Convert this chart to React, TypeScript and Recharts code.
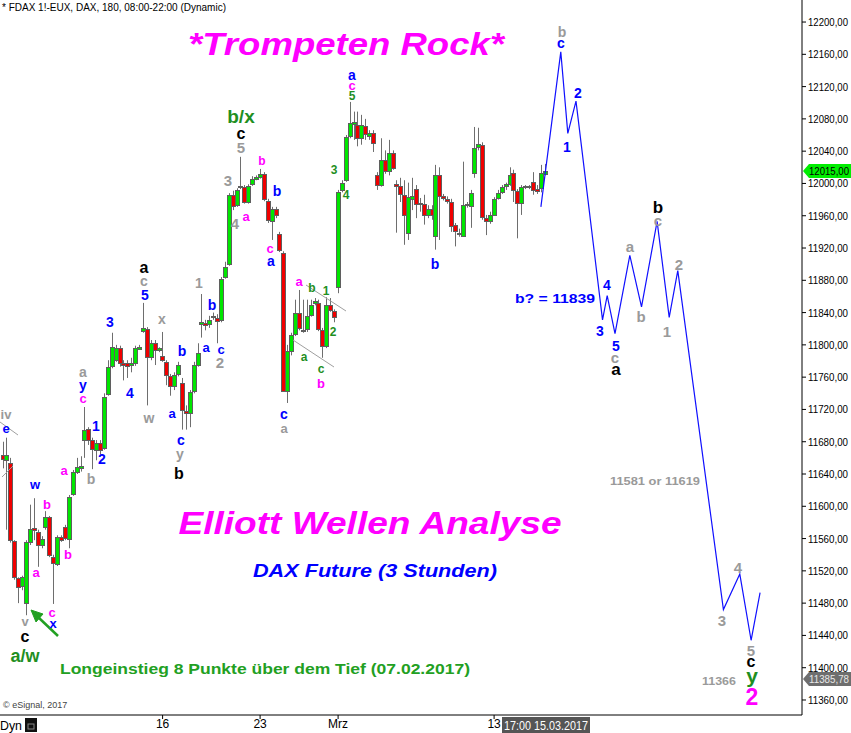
import React from "react"
import { ComposedChart, Bar, Line, XAxis, YAxis } from "recharts"

// 3-hour candles, FDAX, 06.02.2017 - 15.03.2017 (5 bars per day)
const opens = [
  11663, 11657, 11654, 11557, 11511, 11501, 11480, 11556, 11573, 11568,
  11552, 11574, 11587, 11537, 11529, 11562, 11574, 11560, 11615, 11643,
  11648, 11682, 11696, 11682, 11670, 11678, 11672, 11739, 11774, 11781,
  11796, 11777, 11777, 11775, 11777, 11795, 11817, 11820, 11785, 11802,
  11794, 11786, 11779, 11761, 11749, 11764, 11753, 11718, 11716, 11743,
  11775, 11826, 11827, 11826, 11834, 11833, 11831, 11884, 11900, 11986,
  11973, 11995, 11996, 11977, 11999, 12006, 12008, 12012, 11978, 11954,
  11968, 11937, 11914, 11743, 11792, 11813, 11840, 11819, 11820, 11837,
  11852, 11852, 11818, 11799, 11849, 11842, 11872, 11992, 12004, 12059,
  12074, 12072, 12056, 12071, 12059, 12062, 12010, 11998, 12029, 12015,
  12038, 11999, 11997, 11986, 11939, 11981, 11993, 11976, 11975, 11961,
  11968, 11935, 12010, 11984, 11981, 11977, 11948, 11937, 11935, 11973,
  11972, 12013, 12045, 12048, 11957, 11954, 11961, 11982, 11989, 11997,
  11999, 12013, 11991, 11976, 11996, 11997, 12002, 11993, 11994, 12012,
]
const highs = [
  11680, 11685, 11660, 11558, 11512, 11514, 11558, 11602, 11610, 11571,
  11563, 11594, 11588, 11540, 11564, 11564, 11577, 11614, 11645, 11660,
  11662, 11723, 11698, 11685, 11682, 11682, 11740, 11781, 11815, 11800,
  11799, 11781, 11781, 11784, 11799, 11800, 11852, 11822, 11806, 11806,
  11797, 11816, 11781, 11764, 11766, 11779, 11759, 11725, 11744, 11779,
  11802, 11863, 11831, 11836, 11840, 11838, 11884, 11903, 11988, 11991,
  11994, 12033, 11998, 11999, 12009, 12010, 12018, 12014, 11981, 11971,
  11971, 11940, 11916, 11800, 11815, 11856, 11868, 11856, 11856, 11856,
  11858, 11856, 11821, 11859, 11858, 11844, 11992, 12004, 12060, 12101,
  12089, 12089, 12085, 12080, 12066, 12066, 12014, 12056, 12041, 12054,
  12041, 12004, 12007, 12004, 12001, 12007, 11998, 11982, 11986, 11973,
  11973, 12023, 12020, 11987, 11984, 11981, 11951, 11944, 12027, 11977,
  11992, 12070, 12069, 12051, 11961, 11965, 11983, 11992, 11998, 12001,
  12020, 12017, 11993, 11998, 11998, 11998, 12014, 11998, 12023, 12024,
]
const lows = [
  11647, 11571, 11555, 11509, 11480, 11496, 11465, 11552, 11558, 11525,
  11548, 11571, 11537, 11479, 11526, 11556, 11558, 11548, 11613, 11640,
  11643, 11660, 11676, 11646, 11657, 11664, 11670, 11737, 11771, 11779,
  11773, 11756, 11759, 11766, 11774, 11794, 11815, 11725, 11781, 11775,
  11791, 11779, 11750, 11737, 11744, 11761, 11695, 11695, 11698, 11740,
  11773, 11809, 11818, 11821, 11831, 11802, 11828, 11882, 11898, 11967,
  11971, 11993, 11975, 11975, 11997, 12004, 12006, 11978, 11951, 11930,
  11957, 11915, 11742, 11728, 11787, 11811, 11818, 11815, 11816, 11835,
  11849, 11817, 11784, 11796, 11841, 11828, 11864, 11989, 12002, 12056,
  12054, 12046, 12048, 12054, 12054, 12039, 11992, 11996, 12012, 12010,
  12017, 11939, 11977, 11924, 11930, 11967, 11957, 11965, 11949, 11957,
  11955, 11918, 11930, 11979, 11975, 11940, 11922, 11934, 11934, 11970,
  11945, 12007, 12041, 11955, 11936, 11950, 11960, 11980, 11987, 11992,
  11997, 11977, 11932, 11961, 11993, 11993, 11986, 11987, 11989, 12010,
]
const closes = [
  11659, 11664, 11558, 11512, 11500, 11512, 11556, 11572, 11571, 11552,
  11560, 11587, 11540, 11530, 11562, 11558, 11561, 11612, 11643, 11649,
  11650, 11695, 11682, 11671, 11678, 11670, 11735, 11773, 11797, 11796,
  11777, 11775, 11774, 11777, 11796, 11797, 11821, 11785, 11802, 11794,
  11796, 11781, 11763, 11749, 11763, 11775, 11719, 11716, 11742, 11775,
  11790, 11828, 11825, 11831, 11836, 11830, 11882, 11897, 11986, 11972,
  11992, 11997, 11977, 11997, 12006, 12008, 12012, 11981, 11955, 11968,
  11961, 11918, 11743, 11792, 11812, 11840, 11821, 11817, 11836, 11849,
  11854, 11820, 11799, 11849, 11843, 11835, 11989, 12001, 12058, 12075,
  12076, 12056, 12072, 12061, 12062, 12050, 11998, 12029, 12015, 12038,
  12019, 11997, 11987, 11961, 11983, 11984, 11975, 11974, 11961, 11968,
  11961, 12010, 11984, 11982, 11978, 11947, 11941, 11938, 11973, 11974,
  11988, 12044, 12049, 11958, 11954, 11961, 11981, 11988, 11996, 11999,
  12010, 11992, 11976, 11996, 11997, 11996, 11992, 11991, 12013, 12015,
]

// projected wave path (bar index, price)
const projBars = [138, 143.1, 144.9, 147, 153.8, 155, 157, 160.8, 163.8, 167.8, 170.9, 173.1, 184.8, 189, 191.9, 194.2]
const projPrices = [11971, 12163, 12062, 12102, 11831, 11861, 11814, 11911, 11847, 11953, 11834, 11892, 11472, 11516, 11434, 11493]

const xTickBars = [41, 66, 86, 126]
const xTickLabels = ["16", "23", "Mrz", "13"]
const yTicks = Array.from({ length: 22 }, (_, k) => 11360 + k * 40)

const candles = opens.map((o, i) => ({ i, open: o, high: highs[i], low: lows[i], close: closes[i] }))
const projData = projBars.map((b, k) => ({ i: b, v: projPrices[k] }))

const FONT = "'Liberation Sans', Arial, sans-serif"
const B = "#0000ff"
const M = "#ff00ff"
const G = "#9a9a9a"
const K = "#000000"
const GR = "#1f8f1f"

// wave labels: text, x, y, colour, size
const labels: [string, number, number, string, number][] = [
  ["iv", 6, 414, G, 13], ["e", 6, 428, B, 13], ["w", 35, 484, B, 13], ["b", 47, 504, M, 13],
  ["a", 64, 470, M, 13], ["a", 36, 572, M, 13], ["b", 68, 554, M, 13], ["b", 91, 479, G, 14],
  ["c", 52, 612, M, 13], ["x", 53, 623, B, 13], ["v", 25, 621, G, 13], ["c", 25, 636, K, 16],
  ["a/w", 25, 656, GR, 18], ["a", 83, 372, G, 14], ["y", 83, 385, B, 14], ["c", 83, 398, M, 13],
  ["1", 96, 426, B, 14], ["2", 102, 459, B, 14], ["3", 110, 322, B, 14], ["4", 130, 393, B, 14],
  ["a", 144, 267, K, 16], ["c", 144, 281, G, 14], ["5", 145, 295, B, 14], ["x", 162, 319, G, 14],
  ["w", 149, 418, G, 14], ["b", 182, 351, B, 14], ["a", 172, 413, B, 13], ["c", 181, 440, B, 14],
  ["y", 180, 454, G, 14], ["b", 179, 473, K, 16], ["1", 199, 283, G, 14], ["b", 212, 305, B, 14],
  ["a", 206, 347, B, 13], ["c", 221, 349, B, 13], ["2", 220, 362, G, 15], ["b/x", 241, 116, GR, 19],
  ["c", 241, 133, K, 16], ["5", 241, 147, G, 15], ["3", 228, 180, G, 15], ["b", 262, 161, M, 12],
  ["b", 277, 191, B, 14], ["a", 246, 216, M, 13], ["4", 235, 223, G, 15], ["c", 270, 248, M, 13],
  ["a", 271, 261, B, 14], ["c", 284, 414, B, 14], ["a", 284, 428, G, 13], ["a", 299, 281, M, 13],
  ["b", 312, 288, GR, 12], ["1", 326, 291, GR, 12], ["2", 333, 332, GR, 12], ["a", 304, 357, GR, 12],
  ["c", 321, 369, GR, 12], ["b", 321, 383, M, 13], ["3", 334, 170, GR, 12], ["4", 346, 195, GR, 12],
  ["a", 352, 75, B, 14], ["c", 352, 85, M, 13], ["5", 352, 96, GR, 12], ["b", 435, 264, B, 14],
  ["b", 562, 32, G, 14], ["c", 561, 43, B, 14], ["2", 578, 93, B, 14], ["1", 567, 147, B, 14],
  ["4", 607, 285, B, 14], ["3", 600, 331, B, 14], ["5", 616, 346, B, 14], ["c", 615, 357, G, 15],
  ["a", 616, 369, K, 17], ["a", 630, 246, G, 15], ["b", 641, 316, G, 15], ["b", 658, 207, K, 17],
  ["c", 658, 220, G, 15], ["1", 667, 331, G, 15], ["2", 679, 264, G, 15], ["3", 722, 620, G, 15],
  ["4", 738, 567, G, 15], ["5", 751, 650, G, 15], ["c", 751, 661, K, 16], ["y", 752, 675, GR, 21],
  ["2", 752, 697, M, 23],
]

const Candle = (props: any) => {
  const { x, y, width, height, payload } = props
  const { open, close, high, low } = payload
  const top0 = Math.min(y, y + height)
  const h = Math.abs(height)
  const cx = Math.round(x + width / 2) + 0.5
  const ratio = high === low ? 0 : h / (high - low)
  const yOf = (v: number) => top0 + (high - v) * ratio
  const bTop = Math.round(yOf(Math.max(open, close))) + 0.5
  const bBot = Math.round(yOf(Math.min(open, close))) + 0.5
  const up = close >= open
  return (
    <g>
      <line x1={cx} x2={cx} y1={top0} y2={top0 + h} stroke="#6e6e6e" strokeWidth={1} />
      <rect
        x={cx - 2}
        y={bTop}
        width={4}
        height={Math.max(bBot - bTop, 1)}
        fill={up ? "#00e600" : "#f00000"}
        stroke="#5f5f5f"
        strokeWidth={1}
      />
    </g>
  )
}

const fmtPrice = (v: number) => `${v},00`

const YTick = (props: any) => {
  const { x, y, payload } = props
  return (
    <text x={x} y={y + 4} fontSize={11} fill="#000" fontFamily={FONT} textLength={40} lengthAdjust="spacingAndGlyphs">
      {fmtPrice(payload.value)}
    </text>
  )
}

export default function App() {
  return (
    <div style={{ position: "absolute", left: 0, top: 0, width: 851, height: 733, background: "#fff", fontFamily: FONT }}>
      <ComposedChart
        width={851}
        height={733}
        data={candles}
        margin={{ top: 0, right: 0, bottom: 0, left: 0 }}
      >
        <XAxis
          dataKey="i"
          type="number"
          domain={[-0.692, 204.95]}
          allowDataOverflow
          ticks={xTickBars}
          tickFormatter={(v: number) => xTickLabels[xTickBars.indexOf(v)] ?? ""}
          height={18}
          stroke="#000"
          tickSize={4}
          tickMargin={0}
          tick={{ fontSize: 12, fill: "#000", fontFamily: FONT }}
        />
        <YAxis
          orientation="right"
          type="number"
          domain={[11341.4, 12227.3]}
          allowDataOverflow
          ticks={yTicks}
          width={49}
          stroke="#000"
          tickSize={4}
          tickMargin={2}
          tick={<YTick />}
          interval={0}
        />
        <Bar
          dataKey={(d: any) => [d.low, d.high]}
          barSize={4}
          shape={<Candle />}
          isAnimationActive={false}
        />
        <Line
          data={projData}
          dataKey="v"
          type="linear"
          stroke="#1010ff"
          strokeWidth={1.2}
          dot={false}
          activeDot={false}
          isAnimationActive={false}
        />
      </ComposedChart>
      <svg
        width={851}
        height={733}
        style={{ position: "absolute", left: 0, top: 0, pointerEvents: "none" }}
        fontFamily={FONT}
      >
        <text x={2} y={11} fontSize={10} fill="#000">* FDAX 1!-EUX, DAX, 180, 08:00-22:00 (Dynamic)</text>
        {/* drawn trend lines */}
        <g stroke="#a0a0a0" strokeWidth={1}>
          <line x1={0} y1={422} x2={18} y2={435} />
          <line x1={2} y1={477} x2={13} y2={466} />
          <line x1={306} y1={285} x2={346} y2={311} />
          <line x1={293} y1={340} x2={334} y2={367} />
        </g>
        <text x={346} y={55} fontSize={32} fontWeight="bold" fontStyle="italic" fill={M} textAnchor="middle" textLength={316} lengthAdjust="spacingAndGlyphs">*Trompeten Rock*</text>
        <text x={370} y={534} fontSize={32} fontWeight="bold" fontStyle="italic" fill={M} textAnchor="middle" textLength={383} lengthAdjust="spacingAndGlyphs">Elliott Wellen Analyse</text>
        <text x={375} y={577} fontSize={19} fontWeight="bold" fontStyle="italic" fill={B} textAnchor="middle" textLength={244} lengthAdjust="spacingAndGlyphs">DAX Future (3 Stunden)</text>
        <text x={265} y={674} fontSize={14} fontWeight="bold" fill="#22a022" textAnchor="middle" textLength={410} lengthAdjust="spacingAndGlyphs">Longeinstieg 8 Punkte über dem Tief (07.02.2017)</text>
        <text x={555} y={303} fontSize={13} fontWeight="bold" fill={B} textAnchor="middle" textLength={80} lengthAdjust="spacingAndGlyphs">b? = 11839</text>
        <text x={655} y={485} fontSize={11} fontWeight="bold" fill={G} textAnchor="middle" textLength={90} lengthAdjust="spacingAndGlyphs">11581 or 11619</text>
        <text x={719} y={685} fontSize={11} fontWeight="bold" fill={G} textAnchor="middle" textLength={34} lengthAdjust="spacingAndGlyphs">11366</text>
        <text x={3} y={708} fontSize={9} fill="#444">© eSignal, 2017</text>
        {/* arrow to the low */}
        <g stroke="#22a022" strokeWidth={2.5} fill="#22a022">
          <line x1={58} y1={636} x2={38} y2={617} />
          <polygon points="31,610 43,614 36,622" strokeWidth={1} />
        </g>
        {labels.map(([t, x, y, c, s], k) => (
          <text key={k} x={x} y={y} fontSize={s} fontWeight="bold" fill={c} textAnchor="middle" dominantBaseline="central">{t}</text>
        ))}
        {/* last price tags */}
        <polygon points="803,171 809,164 851,164 851,178 809,178" fill="#00ee00" />
        <text x={809} y={175} fontSize={11} fill="#000" textLength={40} lengthAdjust="spacingAndGlyphs">12015,00</text>
        <polygon points="803,679 809,672 851,672 851,686 809,686" fill="#6e6e6e" />
        <text x={809} y={683} fontSize={11} fill="#e8e8e8" textLength={40} lengthAdjust="spacingAndGlyphs">11385,78</text>
        {/* bottom bar */}
        <text x={0} y={730} fontSize={12} fill="#000" textLength={22} lengthAdjust="spacingAndGlyphs">Dyn</text>
        <rect x={25} y={718} width={12} height={14} fill="#111" />
        <rect x={28} y={724} width={6} height={5} fill="none" stroke="#888" />
        <rect x={502} y={717} width={88} height={16} fill="#555" />
        <text x={546} y={730} fontSize={12} fill="#fff" textAnchor="middle" textLength={84} lengthAdjust="spacingAndGlyphs">17:00 15.03.2017</text>
      </svg>
    </div>
  )
}
